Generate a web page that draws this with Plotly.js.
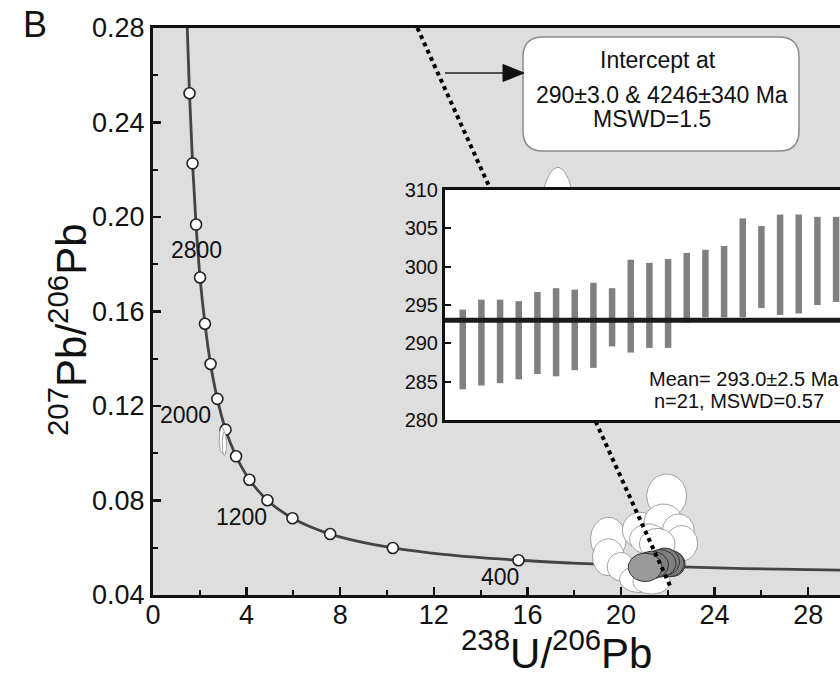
<!DOCTYPE html>
<html><head><meta charset="utf-8">
<script src="https://cdn.plot.ly/plotly-3.0.1.min.js"></script>
<style>html,body{margin:0;padding:0;background:#fff;}#chart{width:840px;height:679px;}</style>
</head><body><div id="chart"></div>
<script>
// ---------- data ----------
// Concordia curve (238U/206Pb vs 207Pb/206Pb)
const curveX = [31.74, 25.29, 20.99, 17.92, 15.62, 12.40, 10.25, 8.72, 7.57, 6.67, 5.96, 5.37, 4.89, 4.48, 4.12, 3.82, 3.55, 3.10, 2.75, 2.46, 2.22, 2.01, 1.84, 1.69, 1.56, 1.44];
const curveY = [0.0501, 0.0512, 0.0523, 0.0535, 0.0547, 0.0572, 0.0599, 0.0628, 0.0658, 0.0691, 0.0725, 0.0762, 0.0801, 0.0843, 0.0888, 0.0936, 0.0987, 0.1100, 0.1230, 0.1378, 0.1548, 0.1744, 0.1968, 0.2227, 0.2524, 0.2868];
// age markers (white circles)
const markX = [15.62, 10.25, 7.57, 5.96, 4.89, 4.12, 3.55, 3.10, 2.75, 2.46, 2.22, 2.01, 1.84, 1.69, 1.56];
const markY = [0.0547, 0.0599, 0.0658, 0.0725, 0.0801, 0.0888, 0.0987, 0.1100, 0.1230, 0.1378, 0.1548, 0.1744, 0.1968, 0.2227, 0.2524];
// age labels
const ageText = ['2800', '2000', '1200', '400'];
const ageX = [1.88, 1.41, 3.80, 14.85];
const ageY = [0.186, 0.1162, 0.073, 0.0475];
// discordia line (dotted)
const discX = [11.3, 22.1];
const discY = [0.28, 0.0438];
// white (discordant) error ellipses: centre x, centre y, semi-axis x, semi-axis y
const wEllX  = [17.30, 2.95, 3.05, 21.95, 19.46, 19.46, 19.99, 20.81, 21.81, 22.45, 22.59, 21.17, 21.55, 20.74, 21.31];
const wEllY  = [0.185, 0.1056, 0.1040, 0.0820, 0.0637, 0.0560, 0.0520, 0.0675, 0.0710, 0.0672, 0.0619, 0.0637, 0.0616, 0.0467, 0.0456];
const wEllRx = [0.90, 0.12, 0.09, 0.85, 0.76, 0.68, 0.58, 0.75, 0.82, 0.68, 0.68, 0.80, 0.76, 0.80, 0.80];
const wEllRy = [0.036, 0.0055, 0.0050, 0.0092, 0.0092, 0.0078, 0.0060, 0.0075, 0.0075, 0.0071, 0.0075, 0.0064, 0.0066, 0.0056, 0.0052];
// grey (concordant) error ellipses
const gEllX  = [22.19, 22.09, 21.88, 21.67, 21.31, 21.03];
const gEllY  = [0.0531, 0.0534, 0.0541, 0.0534, 0.0527, 0.0517];
const gEllRx = [0.55, 0.60, 0.62, 0.68, 0.72, 0.72];
const gEllRy = [0.0053, 0.0056, 0.0058, 0.0058, 0.0058, 0.0060];
// inset: weighted-mean ages (Ma), 2-sigma bars
const spotNo = [1,2,3,4,5,6,7,8,9,10,11,12,13,14,15,16,17,18,19,20,21];
const ageLo = [284.0, 284.5, 284.8, 285.3, 286.0, 285.7, 286.5, 286.8, 289.6, 288.8, 289.4, 289.4, 292.7, 293.4, 293.4, 293.4, 294.6, 293.7, 293.9, 295.0, 295.4];
const ageHi = [294.4, 295.7, 295.7, 295.5, 296.7, 297.2, 297.0, 297.9, 297.2, 300.9, 300.5, 301.0, 301.8, 302.2, 302.7, 306.3, 305.3, 306.8, 306.8, 306.5, 306.5];
const meanAge = 293.0;

// ---------- geometry helpers (pixel -> paper) ----------
const L = 153, R = 840, T = 28, B = 595;
const px = x => (x - L) / (R - L);
const py = y => (B - y) / (B - T);
const FONT = '"Liberation Sans", Arial, sans-serif';

function ellipse(cx, cy, rx, ry) {
  const xs = [], ys = [];
  for (let i = 0; i <= 72; i++) {
    const a = 2 * Math.PI * i / 72;
    xs.push(cx + rx * Math.cos(a));
    ys.push(cy + ry * Math.sin(a));
  }
  return [xs, ys];
}

const traces = [];
// concordia curve
traces.push({x: curveX, y: curveY, mode: 'lines', line: {color: '#444', width: 2.8, shape: 'spline'}, hoverinfo: 'skip', showlegend: false});
traces.push({x: markX, y: markY, mode: 'markers', marker: {size: 11, color: 'white', line: {color: '#222', width: 1.6}}, hoverinfo: 'skip', showlegend: false});
// ellipses
for (let i = 0; i < wEllX.length; i++) {
  const [xs, ys] = ellipse(wEllX[i], wEllY[i], wEllRx[i], wEllRy[i]);
  traces.push({x: xs, y: ys, mode: 'lines', fill: 'toself', fillcolor: 'white', line: {color: '#8a8a8a', width: 0.8}, hoverinfo: 'skip', showlegend: false});
}
for (let i = 0; i < gEllX.length; i++) {
  const [xs, ys] = ellipse(gEllX[i], gEllY[i], gEllRx[i], gEllRy[i]);
  traces.push({x: xs, y: ys, mode: 'lines', fill: 'toself', fillcolor: i === gEllX.length - 1 ? '#9a9a9a' : '#7e7e7e', line: {color: '#333', width: 1}, hoverinfo: 'skip', showlegend: false});
}
// discordia
traces.push({x: discX, y: discY, mode: 'lines', line: {color: '#000', width: 4, dash: 'dot'}, hoverinfo: 'skip', showlegend: false});

// inset
const x2r = [0.05, 21.21];
traces.push({x: [x2r[0], x2r[1], x2r[1], x2r[0], x2r[0]], y: [280, 280, 310, 310, 280], xaxis: 'x2', yaxis: 'y2', mode: 'lines', fill: 'toself', fillcolor: 'white', line: {width: 0, color: 'white'}, hoverinfo: 'skip', showlegend: false});
const barX = [], barY = [];
spotNo.forEach((n, i) => { barX.push(n, n, null); barY.push(ageLo[i], ageHi[i], null); });
traces.push({x: barX, y: barY, mode: 'lines', line: {color: '#808080', width: 6.5}, xaxis: 'x2', yaxis: 'y2', hoverinfo: 'skip', showlegend: false, connectgaps: false});
traces.push({x: x2r, y: [meanAge, meanAge], xaxis: 'x2', yaxis: 'y2', mode: 'lines', line: {color: '#1a1a1a', width: 5}, hoverinfo: 'skip', showlegend: false});

// rounded text box
function roundRect(x0, y0, x1, y1, r) {
  const P = (x, y) => px(x).toFixed(5) + ',' + py(y).toFixed(5);
  return 'M' + P(x0 + r, y0) + ' L' + P(x1 - r, y0) + ' Q' + P(x1, y0) + ' ' + P(x1, y0 + r) +
    ' L' + P(x1, y1 - r) + ' Q' + P(x1, y1) + ' ' + P(x1 - r, y1) +
    ' L' + P(x0 + r, y1) + ' Q' + P(x0, y1) + ' ' + P(x0, y1 - r) +
    ' L' + P(x0, y0 + r) + ' Q' + P(x0, y0) + ' ' + P(x0 + r, y0) + ' Z';
}
const shapes = [
  {type: 'path', xref: 'paper', yref: 'paper', path: roundRect(523, 37, 799, 151, 20), fillcolor: 'white', line: {color: '#8a8a8a', width: 1.5}, layer: 'above'},
  {type: 'line', xref: 'paper', yref: 'paper', x0: px(445), y0: py(73), x1: px(506), y1: py(73), line: {color: '#222', width: 1.3}, layer: 'above'},
  {type: 'path', xref: 'paper', yref: 'paper', path: 'M' + px(503) + ',' + py(64.5) + ' L' + px(524) + ',' + py(73) + ' L' + px(503) + ',' + py(81.5) + ' Z', fillcolor: '#111', line: {color: '#111', width: 1}, layer: 'above'}
];

const C = {xanchor: 'center', yanchor: 'middle', showarrow: false};
const annotations = [];
for (let i = 0; i < ageText.length; i++) {
  annotations.push(Object.assign({x: ageX[i], y: ageY[i], xref: 'x', yref: 'y', text: ageText[i], font: {family: FONT, size: 23, color: '#111'}}, C));
}
annotations.push(
  Object.assign({xref: 'paper', yref: 'paper', x: px(658), y: py(60), text: 'Intercept at', font: {family: FONT, size: 23, color: '#111'}}, C),
  Object.assign({xref: 'paper', yref: 'paper', x: px(662), y: py(95), text: '290±3.0 &amp; 4246±340 Ma', font: {family: FONT, size: 23, color: '#111'}}, C),
  Object.assign({xref: 'paper', yref: 'paper', x: px(652), y: py(119), text: 'MSWD=1.5', font: {family: FONT, size: 23, color: '#111'}}, C),
  Object.assign({xref: 'paper', yref: 'paper', x: px(647), y: py(379), text: 'Mean= 293.0±2.5 Ma', font: {family: FONT, size: 20, color: '#111'}}, C, {xanchor: 'left'}),
  Object.assign({xref: 'paper', yref: 'paper', x: px(652), y: py(401), text: 'n=21, MSWD=0.57', font: {family: FONT, size: 20, color: '#111'}}, C, {xanchor: 'left'}),
  Object.assign({xref: 'paper', yref: 'paper', x: px(556), y: py(650), text: '<sup>238</sup>U/<sup>206</sup>Pb', font: {family: FONT, size: 42, color: '#111'}}, C),
  Object.assign({xref: 'paper', yref: 'paper', x: px(68), y: py(330), textangle: -90, text: '<sup>207</sup>Pb/<sup>206</sup>Pb', font: {family: FONT, size: 42, color: '#111'}}, C),
  Object.assign({xref: 'paper', yref: 'paper', x: px(35), y: py(25), text: 'B', font: {family: FONT, size: 36, color: '#111'}}, C)
);

const layout = {
  width: 840, height: 679,
  margin: {l: L, r: 840 - R, t: T, b: 679 - B, pad: 0},
  paper_bgcolor: 'white',
  plot_bgcolor: '#dedede',
  showlegend: false,
  font: {family: FONT, color: '#111'},
  xaxis: {
    range: [0, (R - L) / 23.4], tickvals: [0, 4, 8, 12, 16, 20, 24, 28], ticks: 'inside', ticklen: 8, tickwidth: 2.5, tickcolor: '#111',
    minor: {dtick: 2, tick0: 0, ticks: 'inside', ticklen: 5, tickwidth: 2, tickcolor: '#111', showgrid: false},
    showline: true, linewidth: 3, linecolor: '#111', mirror: true, showgrid: false, zeroline: false,
    ticklabelstandoff: -6,
    tickfont: {family: FONT, size: 27, color: '#111'}
  },
  yaxis: {
    range: [0.04, 0.28], tickvals: [0.04, 0.08, 0.12, 0.16, 0.20, 0.24, 0.28], tickformat: '.2f', ticks: 'inside', ticklen: 8, tickwidth: 2.5, tickcolor: '#111',
    minor: {dtick: 0.02, tick0: 0.04, ticks: 'inside', ticklen: 5, tickwidth: 2, tickcolor: '#111', showgrid: false},
    showline: true, linewidth: 3, linecolor: '#111', showgrid: false, zeroline: false,
    tickfont: {family: FONT, size: 27, color: '#111'}
  },
  xaxis2: {
    domain: [px(445), 1], anchor: 'y2', range: x2r, showline: true, mirror: true, linewidth: 3, linecolor: '#111',
    showticklabels: false, ticks: '', showgrid: false, zeroline: false
  },
  yaxis2: {
    domain: [py(420), py(190)], anchor: 'x2', range: [280, 310], tickvals: [280, 285, 290, 295, 300, 305, 310],
    ticks: 'inside', ticklen: 6, tickwidth: 2, tickcolor: '#111', showline: true, linewidth: 3, linecolor: '#111',
    showgrid: false, zeroline: false, tickfont: {family: FONT, size: 20, color: '#111'}
  },
  shapes: shapes,
  annotations: annotations
};

Plotly.newPlot('chart', traces, layout, {staticPlot: true, displayModeBar: false});
</script>
</body></html>
